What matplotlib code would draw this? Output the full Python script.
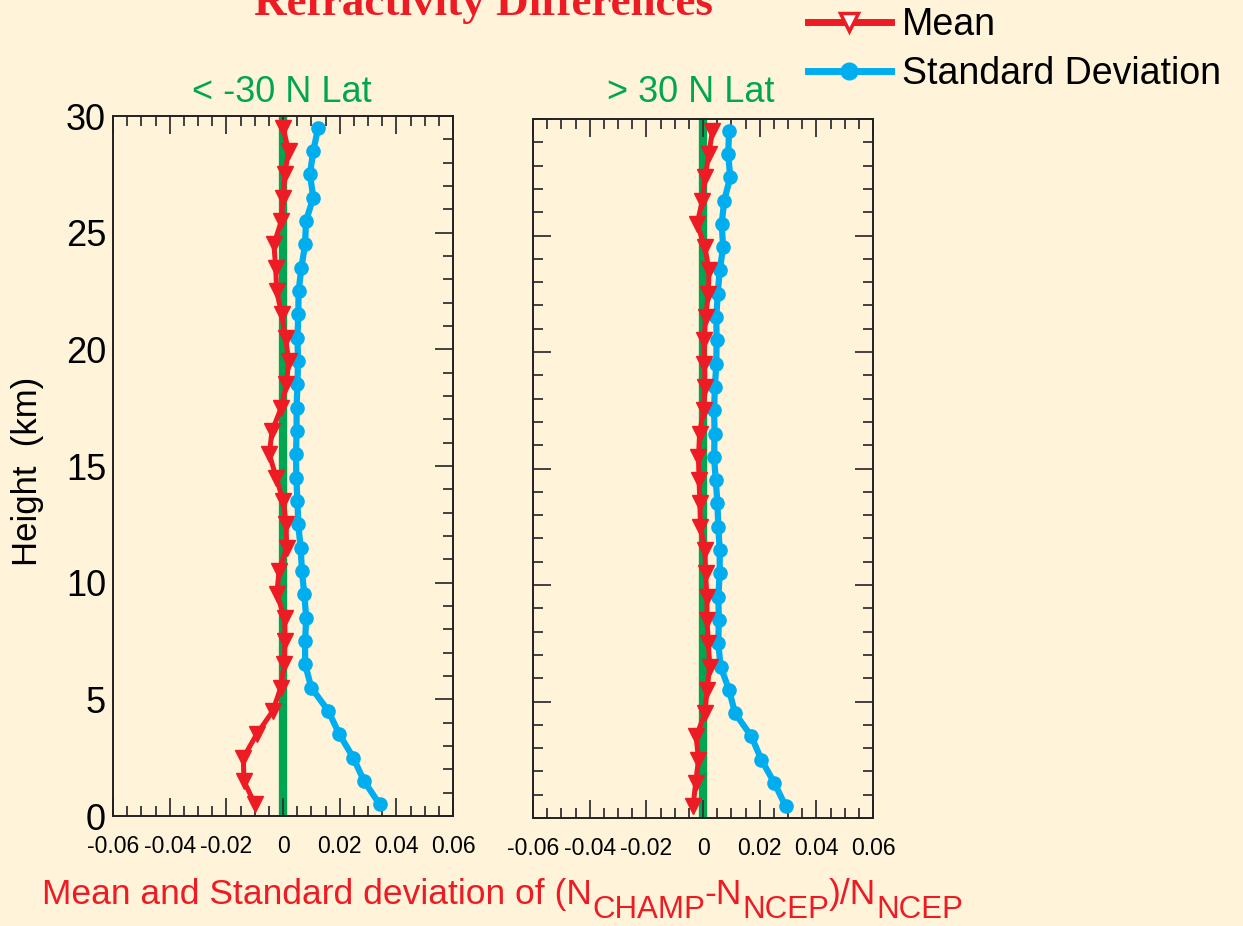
import matplotlib
matplotlib.use("Agg")
import matplotlib.pyplot as plt
from matplotlib.lines import Line2D
from matplotlib.ticker import MultipleLocator

plt.rcParams['font.family'] = ['Liberation Sans', 'DejaVu Sans']
plt.rcParams['axes.unicode_minus'] = False

BG = '#FFF3D9'
RED = '#ED1C24'
BLUE = '#00AEEF'
GREEN = '#00A651'

# heights of the profile levels (km)
height = [0.5, 1.5, 2.5, 3.5, 4.5, 5.5, 6.5, 7.5, 8.5, 9.5,
          10.5, 11.5, 12.5, 13.5, 14.5, 15.5, 16.5, 17.5, 18.5, 19.5,
          20.5, 21.5, 22.5, 23.5, 24.5, 25.5, 26.5, 27.5, 28.5, 29.5]

# < -30 N Lat
south_mean = [-0.0099, -0.0138, -0.0140, -0.0093, -0.0036, -0.0008, 0.0004, 0.0007, 0.0006, -0.0022,
              -0.0014, 0.0013, 0.0011, 0.0001, -0.0024, -0.0048, -0.0039, -0.0006, 0.0012, 0.0020,
              0.0009, -0.0005, -0.0022, -0.0026, -0.0032, -0.0006, 0.0001, 0.0006, 0.0020, 0.0000]
south_std = [0.0341, 0.0286, 0.0248, 0.0199, 0.0160, 0.0100, 0.0078, 0.0078, 0.0082, 0.0075,
             0.0067, 0.0062, 0.0054, 0.0051, 0.0047, 0.0046, 0.0048, 0.0048, 0.0051, 0.0053,
             0.0051, 0.0054, 0.0055, 0.0065, 0.0078, 0.0081, 0.0107, 0.0095, 0.0107, 0.0124]

# > 30 N Lat
north_mean = [-0.0035, -0.0026, -0.0016, -0.0024, 0.0007, 0.0014, 0.0024, 0.0019, 0.0014, 0.0014,
              0.0009, 0.0007, -0.0009, -0.0011, -0.0014, -0.0016, -0.0012, 0.0002, 0.0007, 0.0005,
              0.0004, 0.0009, 0.0019, 0.0021, 0.0007, -0.0021, -0.0002, 0.0007, 0.0021, 0.0033]
north_std = [0.0292, 0.0252, 0.0206, 0.0171, 0.0113, 0.0092, 0.0062, 0.0054, 0.0056, 0.0054,
             0.0059, 0.0059, 0.0054, 0.0051, 0.0045, 0.0039, 0.0041, 0.0039, 0.0042, 0.0047,
             0.0048, 0.0047, 0.0052, 0.0059, 0.0071, 0.0066, 0.0075, 0.0096, 0.0089, 0.0092]

panel_titles = ['< -30 N Lat', '> 30 N Lat']
x_ticks = [-0.06, -0.04, -0.02, 0, 0.02, 0.04, 0.06]
x_ticklabels = ['-0.06', '-0.04', '-0.02', '0', '0.02', '0.04', '0.06']
y_ticks = [0, 5, 10, 15, 20, 25, 30]
y_ticklabels = ['0', '5', '10', '15', '20', '25', '30']

# x label pieces: (text, is_subscript)
xlabel_parts = [('Mean and Standard deviation of (N', False), ('CHAMP', True),
                ('-N', False), ('NCEP', True), (')/N', False), ('NCEP', True)]

W, H = 1243, 926
fig = plt.figure(figsize=(W / 100, H / 100), dpi=100, facecolor=BG)

ax1 = fig.add_axes([113 / W, 1 - 816 / H, 340 / W, 700 / H])
ax2 = fig.add_axes([533 / W, 1 - 818 / H, 340 / W, 699 / H])

panels = [(ax1, south_mean, south_std, panel_titles[0], 0.497),
          (ax2, north_mean, north_std, panel_titles[1], 0.465)]

for i, (ax, mean, std, ttl, tx) in enumerate(panels):
    ax.set_facecolor(BG)
    ax.axvline(0, ymin=0.006, ymax=1, color=GREEN, lw=6, zorder=1)
    ax.plot(std, height, color=BLUE, lw=4.5, marker='o', markersize=9.5, zorder=2)
    ax.plot(mean, height, color=RED, lw=3.6, marker='v', markersize=11, zorder=3)
    ax.set_xlim(-0.06, 0.06)
    ax.set_ylim(0, 30)
    ax.set_xticks(x_ticks)
    ax.set_xticklabels(x_ticklabels, fontsize=16.5)
    ax.xaxis.set_minor_locator(MultipleLocator(0.005))
    ax.yaxis.set_minor_locator(MultipleLocator(1))
    ax.set_yticks(y_ticks)
    ax.tick_params(which='both', direction='in', top=True, right=True,
                   color='#333333', width=1.3)
    ax.tick_params(which='major', length=13)
    ax.tick_params(which='minor', length=7)
    ax.tick_params(axis='x', pad=14)
    for s in ax.spines.values():
        s.set_color('#222222')
        s.set_linewidth(1.4)
    ax.set_title(ttl, color=GREEN, fontsize=26, pad=10 if i == 0 else 12, x=tx)
    if i == 0:
        ax.set_yticklabels(y_ticklabels, fontsize=26)
        ax.tick_params(axis='y', which='both', left=False, pad=5)
    else:
        ax.tick_params(axis='y', labelleft=False)

fig.text(28 / W, 1 - 471 / H, 'Height  (km)', rotation=90, fontsize=25,
         ha='center', va='center')

fig.text(484 / W, 1 - 15 / H, 'Refractivity Differences', color=RED,
         fontsize=32.5, fontweight='bold', family='Liberation Serif',
         ha='center', va='baseline')

# x label with large subscripts, laid out piece by piece
renderer = fig.canvas.get_renderer()
xpos = 42
for txt, is_sub in xlabel_parts:
    base = 918 if is_sub else 904
    t = fig.text(xpos / W, 1 - base / H, txt, color=RED,
                 fontsize=22.5 if is_sub else 25.5, ha='left', va='baseline')
    xpos += t.get_window_extent(renderer).width

mean_handle = Line2D([], [], color=RED, lw=5, marker='v', markersize=13,
                     markerfacecolor='white', markeredgecolor=RED, markeredgewidth=2.5)
std_handle = Line2D([], [], color=BLUE, lw=5, marker='o', markersize=12)
fig.legend([mean_handle, std_handle], ['Mean', 'Standard Deviation'],
           loc='upper left', bbox_to_anchor=(808 / W, 1 - 7 / H), frameon=False,
           fontsize=27, handlelength=2.2, handletextpad=0.3, labelspacing=0.35,
           borderaxespad=0, borderpad=0)

fig.savefig('out.png', dpi=100, facecolor=BG)
